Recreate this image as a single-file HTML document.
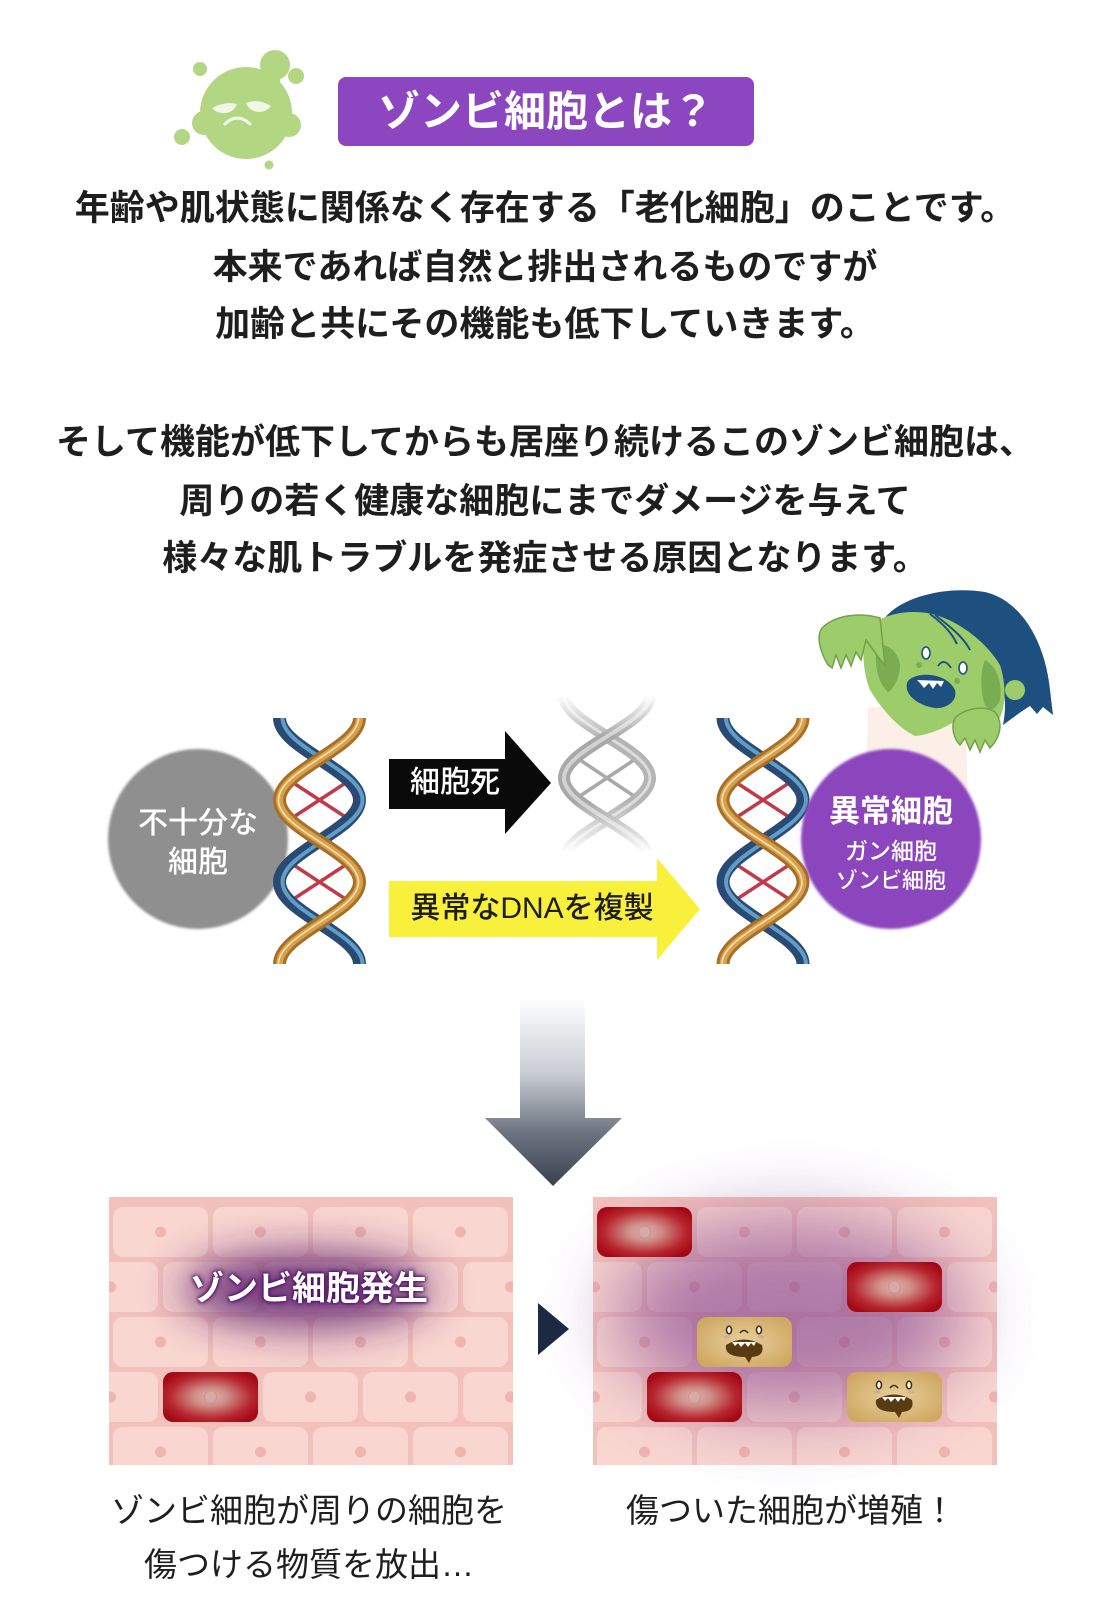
<!DOCTYPE html>
<html lang="ja">
<head>
<meta charset="utf-8">
<style>
html,body{margin:0;padding:0;background:#fff;}
body{width:1105px;height:1619px;position:relative;overflow:hidden;font-family:"Liberation Sans","Noto Sans CJK JP",sans-serif;}
svg.bg{position:absolute;left:0;top:0;}
.t{position:absolute;left:0;width:1090px;text-align:center;font-size:35px;font-weight:700;color:#1e1e1e;height:50px;line-height:50px;white-space:nowrap;}
.c{position:absolute;text-align:center;white-space:nowrap;}
</style>
</head>
<body>
<svg class="bg" width="1105" height="1619" viewBox="0 0 1105 1619" xmlns="http://www.w3.org/2000/svg">
<defs>
  <filter id="fz" x="-10%" y="-10%" width="120%" height="120%"><feGaussianBlur stdDeviation="1.4"/></filter>
  <filter id="hzL" x="-50%" y="-80%" width="200%" height="260%"><feGaussianBlur stdDeviation="22"/></filter>
  <filter id="hzR" x="-50%" y="-80%" width="200%" height="260%"><feGaussianBlur stdDeviation="38"/></filter>
  <radialGradient id="redG" cx="0.5" cy="0.5" r="0.6">
    <stop offset="0" stop-color="#ddb2ad"/>
    <stop offset="0.3" stop-color="#cf8c86"/>
    <stop offset="0.72" stop-color="#b7262f"/>
    <stop offset="1" stop-color="#a30814"/>
  </radialGradient>
  <radialGradient id="tanG" cx="0.5" cy="0.5" r="0.6">
    <stop offset="0" stop-color="#e8cf9c"/>
    <stop offset="1" stop-color="#cfa862"/>
  </radialGradient>
  <linearGradient id="dg" gradientUnits="userSpaceOnUse" x1="0" y1="998" x2="0" y2="1186">
    <stop offset="0" stop-color="#ffffff"/>
    <stop offset="0.4" stop-color="#c9cdd3"/>
    <stop offset="0.72" stop-color="#6c7380"/>
    <stop offset="1" stop-color="#39414f"/>
  </linearGradient>
  <linearGradient id="fadeG" gradientUnits="userSpaceOnUse" x1="0" y1="695" x2="0" y2="861">
    <stop offset="0" stop-color="#fff" stop-opacity="0"/>
    <stop offset="0.25" stop-color="#fff" stop-opacity="1"/>
    <stop offset="0.65" stop-color="#fff" stop-opacity="1"/>
    <stop offset="0.95" stop-color="#fff" stop-opacity="0"/>
  </linearGradient>
  <mask id="fadeM"><rect x="540" y="690" width="130" height="175" fill="url(#fadeG)"/></mask>
  <clipPath id="cpL"><rect x="109" y="1197" width="404" height="268"/></clipPath>
  <clipPath id="cpR"><rect x="593" y="1197" width="404" height="268"/></clipPath>
</defs>

<!-- green blob -->
<g fill="#b3d683">
  <circle cx="246" cy="113" r="46"/>
  <circle cx="204" cy="123" r="12"/>
  <circle cx="289" cy="125" r="12"/>
  <circle cx="275" cy="65" r="15"/>
  <circle cx="296" cy="76" r="8"/>
  <circle cx="268" cy="80" r="12"/>
  <circle cx="200" cy="69" r="7"/>
  <circle cx="182" cy="137" r="8"/>
  <circle cx="269" cy="165" r="4.5"/>
</g>
<g fill="#f1f7e6">
  <path d="M212,108 Q225,101 237,104 Q233,114 222,113 Q215,112 212,108 Z"/>
  <path d="M246,103 Q258,98 271,106 Q267,112 258,112 Q249,111 246,103 Z"/>
</g>
<path d="M225,124 Q237,112 250,124" stroke="#f1f7e6" stroke-width="3.2" fill="none" stroke-linecap="round"/>

<!-- gray circle -->
<circle cx="198" cy="839" r="90" fill="#8f8f8f" filter="url(#fz)"/>

<!-- DNA 1 -->
<g id="dna1">
  <path d="M292,782 L347,818 M292,818 L347,782 M292,864 L347,900 M292,900 L347,864" stroke="#c23a4a" stroke-width="3.5" fill="none"/>
  <path d="M279.5,718 C279.5,748 359.5,770 359.5,800 C359.5,830 279.5,852 279.5,882 C279.5,912 359.5,934 359.5,964" stroke="#2b4a73" stroke-width="13" fill="none"/>
  <path transform="translate(3,0)" d="M279.5,718 C279.5,748 359.5,770 359.5,800 C359.5,830 279.5,852 279.5,882 C279.5,912 359.5,934 359.5,964" stroke="#5f9ec7" stroke-width="4" fill="none"/>
  <path d="M359.5,718 C359.5,748 279.5,770 279.5,800 C279.5,830 359.5,852 359.5,882 C359.5,912 279.5,934 279.5,964" stroke="#a86f28" stroke-width="13" fill="none"/>
  <path d="M359.5,718 C359.5,748 279.5,770 279.5,800 C279.5,830 359.5,852 359.5,882 C359.5,912 279.5,934 279.5,964" stroke="#d9a04c" stroke-width="7" fill="none"/>
  <path transform="translate(-1,0)" d="M359.5,718 C359.5,748 279.5,770 279.5,800 C279.5,830 359.5,852 359.5,882 C359.5,912 279.5,934 279.5,964" stroke="#f5e2b4" stroke-width="1.6" fill="none"/>
</g>

<!-- black arrow -->
<polygon points="389,759 505,759 505,731 551,783 505,834 505,809 389,809" fill="#0a0a0a"/>
<!-- yellow arrow -->
<polygon points="389,881 657,881 657,858 700,909 657,960 657,937 389,937" fill="#f9f03c"/>

<!-- gray faded DNA -->
<g mask="url(#fadeM)">
  <path d="M580,760 L634,796 M580,796 L634,760" stroke="#a9a9a9" stroke-width="3.5" fill="none"/>
  <path d="M564,695 C564,725 650,748 650,778 C650,808 564,831 564,861" stroke="#b4b4b4" stroke-width="12" fill="none"/>
  <path d="M564,695 C564,725 650,748 650,778 C650,808 564,831 564,861" stroke="#dcdcdc" stroke-width="3" fill="none"/>
  <path d="M650,695 C650,725 564,748 564,778 C564,808 650,831 650,861" stroke="#a8a8a8" stroke-width="12" fill="none"/>
  <path d="M650,695 C650,725 564,748 564,778 C564,808 650,831 650,861" stroke="#d2d2d2" stroke-width="4" fill="none"/>
</g>

<!-- zombie girl -->
<g>
  <path d="M868,708 L965,700 L968,800 L866,800 Z" fill="#fbefe8"/>
  <path d="M1003,725 C1008,700 1003,680 995,665 C985,645 960,625 935,618 C915,612 895,616 882,622 C895,600 940,585 985,592 C1020,600 1045,640 1050,690 L1053,715 L1043,707 L1037,714 L1030,706 C1020,712 1010,720 1003,725 Z" fill="#1d4f7f"/>
  <path d="M866,630 C880,615 900,612 915,612 C950,612 985,640 1000,665 C1008,690 1005,715 995,725 L962,716 C950,726 930,735 915,736 C895,726 880,706 870,690 C862,670 862,645 866,630 Z" fill="#9dcc6a"/>
  <path d="M876,645 C886,643 898,650 900,665 C900,678 893,690 888,692 C880,685 874,670 876,645 Z" fill="#7aad52"/>
  <path d="M985,660 C995,665 1003,680 1000,700 C996,710 990,712 985,705 C980,690 980,672 985,660 Z" fill="#7aad52"/>
  <path d="M935,615 C955,630 965,640 970,650" stroke="#1d4f7f" stroke-width="2" fill="none"/>
  <path d="M930,614 C945,625 953,635 957,644" stroke="#1d4f7f" stroke-width="2" fill="none"/>
  <circle cx="1015" cy="690" r="10" fill="#9dcc6a"/>
  <ellipse cx="926" cy="653" rx="4" ry="6" fill="#fff" stroke="#1d4f7f" stroke-width="1.6"/>
  <ellipse cx="963" cy="668" rx="4" ry="6" fill="#fff" stroke="#1d4f7f" stroke-width="1.6"/>
  <path d="M938,666 Q944,657 951,668" stroke="#1d4f7f" stroke-width="1.8" fill="none"/>
  <circle cx="919" cy="665" r="3" fill="#7aad52"/>
  <circle cx="957" cy="681" r="3" fill="#7aad52"/>
  <path d="M907,683 C911,672 945,670 955,690 C958,702 945,709 935,708 C920,706 904,696 907,683 Z" fill="#1d4f7f"/>
  <path d="M917,680 L944,681 L941,687 L937,683 L933,689 L929,683 L924,688 L920,683 Z" fill="#fff"/>
  <path d="M880,618 C860,612 835,615 822,628 C815,638 822,655 828,665 L832,668 L836,655 L841,668 L846,655 L851,666 L856,652 L861,660 L866,640 C872,648 880,660 885,665 Z" fill="#9dcc6a" stroke="#6fa24a" stroke-width="1.5"/>
  <path d="M995,712 C985,705 965,708 955,718 C950,728 955,740 960,745 L965,738 L970,750 L975,740 L980,752 L985,740 L990,748 C998,740 1005,725 995,712 Z" fill="#9dcc6a" stroke="#6fa24a" stroke-width="1.5"/>
</g>

<!-- DNA 2 -->
<g transform="translate(443.5,0)">
  <path d="M292,782 L347,818 M292,818 L347,782 M292,864 L347,900 M292,900 L347,864" stroke="#c23a4a" stroke-width="3.5" fill="none"/>
  <path d="M279.5,718 C279.5,748 359.5,770 359.5,800 C359.5,830 279.5,852 279.5,882 C279.5,912 359.5,934 359.5,964" stroke="#2b4a73" stroke-width="13" fill="none"/>
  <path transform="translate(3,0)" d="M279.5,718 C279.5,748 359.5,770 359.5,800 C359.5,830 279.5,852 279.5,882 C279.5,912 359.5,934 359.5,964" stroke="#5f9ec7" stroke-width="4" fill="none"/>
  <path d="M359.5,718 C359.5,748 279.5,770 279.5,800 C279.5,830 359.5,852 359.5,882 C359.5,912 279.5,934 279.5,964" stroke="#a86f28" stroke-width="13" fill="none"/>
  <path d="M359.5,718 C359.5,748 279.5,770 279.5,800 C279.5,830 359.5,852 359.5,882 C359.5,912 279.5,934 279.5,964" stroke="#d9a04c" stroke-width="7" fill="none"/>
  <path transform="translate(-1,0)" d="M359.5,718 C359.5,748 279.5,770 279.5,800 C279.5,830 359.5,852 359.5,882 C359.5,912 279.5,934 279.5,964" stroke="#f5e2b4" stroke-width="1.6" fill="none"/>
</g>

<!-- purple circle -->
<circle cx="891" cy="839" r="90" fill="#8b44bd" filter="url(#fz)"/>

<!-- down arrow -->
<polygon points="520,998 585,998 585,1118 622,1118 553,1186 485,1118 520,1118" fill="url(#dg)"/>

<!-- LEFT PANEL -->
<g clip-path="url(#cpL)">
  <rect x="109" y="1197" width="404" height="268" fill="#f2c1bc"/>
  <g fill="#f9d6d0">
    <rect x="113" y="1207" width="95" height="50" rx="10"/><rect x="213" y="1207" width="95" height="50" rx="10"/><rect x="313" y="1207" width="95" height="50" rx="10"/><rect x="413" y="1207" width="95" height="50" rx="10"/>
    <rect x="63" y="1262" width="95" height="50" rx="10"/><rect x="163" y="1262" width="95" height="50" rx="10"/><rect x="263" y="1262" width="95" height="50" rx="10"/><rect x="363" y="1262" width="95" height="50" rx="10"/><rect x="463" y="1262" width="95" height="50" rx="10"/>
    <rect x="113" y="1317" width="95" height="50" rx="10"/><rect x="213" y="1317" width="95" height="50" rx="10"/><rect x="313" y="1317" width="95" height="50" rx="10"/><rect x="413" y="1317" width="95" height="50" rx="10"/>
    <rect x="63" y="1372" width="95" height="50" rx="10"/><rect x="263" y="1372" width="95" height="50" rx="10"/><rect x="363" y="1372" width="95" height="50" rx="10"/><rect x="463" y="1372" width="95" height="50" rx="10"/>
    <rect x="113" y="1427" width="95" height="50" rx="10"/><rect x="213" y="1427" width="95" height="50" rx="10"/><rect x="313" y="1427" width="95" height="50" rx="10"/><rect x="413" y="1427" width="95" height="50" rx="10"/>
  </g>
  <g fill="#efb5af">
    <circle cx="160.5" cy="1232" r="5.5"/><circle cx="260.5" cy="1232" r="5.5"/><circle cx="360.5" cy="1232" r="5.5"/><circle cx="460.5" cy="1232" r="5.5"/>
    <circle cx="110.5" cy="1287" r="5.5"/><circle cx="210.5" cy="1287" r="5.5"/><circle cx="310.5" cy="1287" r="5.5"/><circle cx="410.5" cy="1287" r="5.5"/><circle cx="510.5" cy="1287" r="5.5"/>
    <circle cx="160.5" cy="1342" r="5.5"/><circle cx="260.5" cy="1342" r="5.5"/><circle cx="360.5" cy="1342" r="5.5"/><circle cx="460.5" cy="1342" r="5.5"/>
    <circle cx="110.5" cy="1397" r="5.5"/><circle cx="310.5" cy="1397" r="5.5"/><circle cx="410.5" cy="1397" r="5.5"/><circle cx="510.5" cy="1397" r="5.5"/>
    <circle cx="160.5" cy="1452" r="5.5"/><circle cx="260.5" cy="1452" r="5.5"/><circle cx="360.5" cy="1452" r="5.5"/><circle cx="460.5" cy="1452" r="5.5"/>
  </g>
  <rect x="163" y="1372" width="95" height="50" rx="10" fill="url(#redG)"/>
  <circle cx="210.5" cy="1397" r="6" fill="#d8aaa5" stroke="#c99590" stroke-width="1"/>
</g>
<ellipse cx="307" cy="1290" rx="125" ry="36" fill="#5e2270" opacity="0.9" filter="url(#hzL)"/>

<!-- RIGHT PANEL -->
<g clip-path="url(#cpR)">
  <rect x="593" y="1197" width="404" height="268" fill="#f2c1bc"/>
  <g fill="#f9d6d0">
    <rect x="697" y="1207" width="95" height="50" rx="10"/><rect x="797" y="1207" width="95" height="50" rx="10"/><rect x="897" y="1207" width="95" height="50" rx="10"/>
    <rect x="547" y="1262" width="95" height="50" rx="10"/><rect x="647" y="1262" width="95" height="50" rx="10"/><rect x="747" y="1262" width="95" height="50" rx="10"/><rect x="947" y="1262" width="95" height="50" rx="10"/>
    <rect x="597" y="1317" width="95" height="50" rx="10"/><rect x="797" y="1317" width="95" height="50" rx="10"/><rect x="897" y="1317" width="95" height="50" rx="10"/>
    <rect x="547" y="1372" width="95" height="50" rx="10"/><rect x="747" y="1372" width="95" height="50" rx="10"/><rect x="947" y="1372" width="95" height="50" rx="10"/>
    <rect x="597" y="1427" width="95" height="50" rx="10"/><rect x="697" y="1427" width="95" height="50" rx="10"/><rect x="797" y="1427" width="95" height="50" rx="10"/><rect x="897" y="1427" width="95" height="50" rx="10"/>
  </g>
  <g fill="#efb5af">
    <circle cx="744.5" cy="1232" r="5.5"/><circle cx="844.5" cy="1232" r="5.5"/><circle cx="944.5" cy="1232" r="5.5"/>
    <circle cx="594.5" cy="1287" r="5.5"/><circle cx="694.5" cy="1287" r="5.5"/><circle cx="794.5" cy="1287" r="5.5"/><circle cx="994.5" cy="1287" r="5.5"/>
    <circle cx="644.5" cy="1342" r="5.5"/><circle cx="844.5" cy="1342" r="5.5"/><circle cx="944.5" cy="1342" r="5.5"/>
    <circle cx="594.5" cy="1397" r="5.5"/><circle cx="794.5" cy="1397" r="5.5"/><circle cx="994.5" cy="1397" r="5.5"/>
    <circle cx="644.5" cy="1452" r="5.5"/><circle cx="744.5" cy="1452" r="5.5"/><circle cx="844.5" cy="1452" r="5.5"/><circle cx="944.5" cy="1452" r="5.5"/>
  </g>
</g>
<ellipse cx="790" cy="1315" rx="175" ry="95" fill="#83428f" opacity="0.62" filter="url(#hzR)"/>
<g>
  <rect x="597" y="1207" width="95" height="50" rx="10" fill="url(#redG)"/>
  <circle cx="644.5" cy="1232" r="6" fill="#d8aaa5" stroke="#c99590" stroke-width="1"/>
  <rect x="847" y="1262" width="95" height="50" rx="10" fill="url(#redG)"/>
  <circle cx="894.5" cy="1287" r="6" fill="#d8aaa5" stroke="#c99590" stroke-width="1"/>
  <rect x="647" y="1372" width="95" height="50" rx="10" fill="url(#redG)"/>
  <circle cx="694.5" cy="1397" r="6" fill="#d8aaa5" stroke="#c99590" stroke-width="1"/>
</g>
<!-- tan zombie cells -->
<g>
  <rect x="697" y="1317" width="95" height="50" rx="10" fill="url(#tanG)"/>
  <ellipse cx="729" cy="1330" rx="2.5" ry="3.8" fill="#fff" stroke="#4a3010" stroke-width="1.6"/>
  <ellipse cx="759" cy="1330" rx="2.5" ry="3.8" fill="#fff" stroke="#4a3010" stroke-width="1.6"/>
  <path d="M740,1333 Q744,1328 748,1333" stroke="#4a3010" stroke-width="1.6" fill="none"/>
  <ellipse cx="727" cy="1337" rx="3.5" ry="1.5" fill="#c9a29a" opacity="0.7"/>
  <ellipse cx="761" cy="1337" rx="3.5" ry="1.5" fill="#c9a29a" opacity="0.7"/>
  <path d="M726,1345 Q744,1334 762,1345 Q765,1356 752,1357 L749,1363 L745,1357 Q724,1357 726,1345 Z" fill="#5a3a12"/>
  <path d="M732,1342 L756,1342 L754,1346 L751,1343 L748,1347 L745,1343 L741,1347 L738,1343 L735,1346 Z" fill="#fff"/>

  <rect x="847" y="1372" width="95" height="50" rx="10" fill="url(#tanG)"/>
  <ellipse cx="879" cy="1385" rx="2.5" ry="3.8" fill="#fff" stroke="#4a3010" stroke-width="1.6"/>
  <ellipse cx="909" cy="1385" rx="2.5" ry="3.8" fill="#fff" stroke="#4a3010" stroke-width="1.6"/>
  <path d="M890,1388 Q894,1383 898,1388" stroke="#4a3010" stroke-width="1.6" fill="none"/>
  <ellipse cx="877" cy="1392" rx="3.5" ry="1.5" fill="#c9a29a" opacity="0.7"/>
  <ellipse cx="911" cy="1392" rx="3.5" ry="1.5" fill="#c9a29a" opacity="0.7"/>
  <path d="M876,1400 Q894,1389 912,1400 Q915,1411 902,1412 L899,1418 L895,1412 Q874,1412 876,1400 Z" fill="#5a3a12"/>
  <path d="M882,1397 L906,1397 L904,1401 L901,1398 L898,1402 L895,1398 L891,1402 L888,1398 L885,1401 Z" fill="#fff"/>
</g>

<!-- navy triangle -->
<polygon points="538,1303 569,1329 538,1355" fill="#1b2a42"/>
</svg>

<!-- badge -->
<div style="position:absolute;left:338px;top:77px;width:416px;height:69px;background:#8c46bf;border-radius:8px;"></div>
<div class="c" style="left:338px;top:77px;width:416px;height:69px;line-height:69px;font-size:42px;font-weight:700;color:#fff;">ゾンビ細胞とは？</div>

<!-- paragraphs -->
<div class="t" style="top:184px;">年齢や肌状態に関係なく存在する「老化細胞」のことです。</div>
<div class="t" style="top:243px;">本来であれば自然と排出されるものですが</div>
<div class="t" style="top:300px;">加齢と共にその機能も低下していきます。</div>
<div class="t" style="top:418px;">そして機能が低下してからも居座り続けるこのゾンビ細胞は、</div>
<div class="t" style="top:477px;">周りの若く健康な細胞にまでダメージを与えて</div>
<div class="t" style="top:534px;">様々な肌トラブルを発症させる原因となります。</div>

<!-- diagram labels -->
<div class="c" style="left:108px;width:180px;top:804px;height:40px;line-height:40px;font-size:30px;font-weight:500;color:#fff;">不十分な</div>
<div class="c" style="left:108px;width:180px;top:843px;height:40px;line-height:40px;font-size:30px;font-weight:500;color:#fff;">細胞</div>
<div class="c" style="left:395px;width:120px;top:763px;height:40px;line-height:40px;font-size:30px;font-weight:500;color:#fff;">細胞死</div>
<div class="c" style="left:392px;width:280px;top:889px;height:40px;line-height:40px;font-size:30px;font-weight:500;color:#1e1e1e;">異常なDNAを複製</div>
<div class="c" style="left:801px;width:180px;top:792px;height:40px;line-height:40px;font-size:31px;font-weight:700;color:#fff;">異常細胞</div>
<div class="c" style="left:801px;width:180px;top:836px;height:30px;line-height:30px;font-size:23px;font-weight:500;color:#fff;">ガン細胞</div>
<div class="c" style="left:801px;width:180px;top:866px;height:30px;line-height:30px;font-size:22px;font-weight:500;color:#fff;">ゾンビ細胞</div>

<!-- panel label -->
<div class="c" style="left:159px;width:300px;top:1267px;height:44px;line-height:44px;font-size:34px;font-weight:700;color:#fff;text-shadow:0 0 2px #4a1060,0 0 4px #4a1060,0 0 6px #5a1a70;">ゾンビ細胞発生</div>

<!-- captions -->
<div class="c" style="left:59px;width:500px;top:1488px;height:46px;line-height:46px;font-size:33px;font-weight:400;color:#1e1e1e;">ゾンビ細胞が周りの細胞を</div>
<div class="c" style="left:59px;width:500px;top:1542px;height:46px;line-height:46px;font-size:33px;font-weight:400;color:#1e1e1e;">傷つける物質を放出…</div>
<div class="c" style="left:541px;width:500px;top:1488px;height:46px;line-height:46px;font-size:33px;font-weight:400;color:#1e1e1e;">傷ついた細胞が増殖！</div>
</body>
</html>
